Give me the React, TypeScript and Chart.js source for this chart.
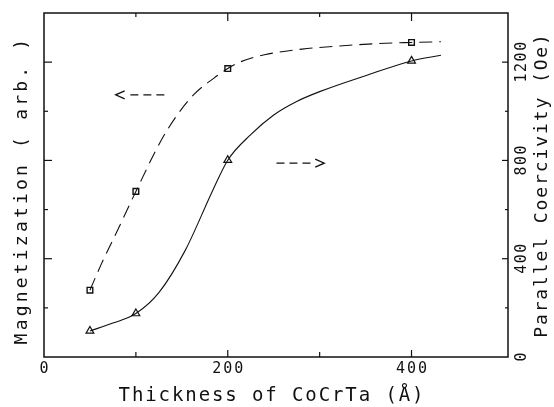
import React, { useEffect, useRef } from 'react';
import { Chart, registerables } from 'chart.js';

Chart.register(...registerables);

// Measured points
const thickness = [50, 100, 200, 400];
const magnetization = [272, 674, 1174, 1280];
const coercivity = [106, 177, 801, 1205];

// Fitted curves
const magCurveX = [50, 62, 82, 100, 127, 144, 163, 185, 200, 213, 240, 281, 322, 372, 400, 432];
const magCurveY = [272, 375, 531, 674, 878, 980, 1068, 1135, 1174, 1200, 1230, 1253, 1266, 1277, 1280, 1283];
const coerCurveX = [50, 75, 100, 125, 154, 184, 200, 225, 250, 275, 300, 350, 400, 432];
const coerCurveY = [106, 138, 177, 262, 436, 681, 801, 905, 985, 1040, 1080, 1145, 1205, 1228];

// Axes
const xTickValues = [0, 100, 200, 300, 400];
const xTickLabels = ['0', '', '200', '', '400'];
const yTickValues = [0, 200, 400, 600, 800, 1000, 1200];
const yTickLabels = ['0', '', '400', '', '800', '', '1200'];

const xTitle = 'Thickness of CoCrTa (Å)';
const yLeftTitle = 'Magnetization ( arb. )';
const yRightTitle = 'Parallel Coercivity (Oe)';

// Annotation arrows (data coordinates: [thickness, value])
const magArrowTail = [131, 1067];
const magArrowTip = [78, 1067];
const coerArrowTail = [253, 789];
const coerArrowTip = [305, 789];

const INK = '#111';
const MONO = '"DejaVu Sans Mono", monospace';

function pts(xs: number[], ys: number[]) {
  return xs.map((x, i) => ({ x, y: ys[i] }));
}

const decor = {
  id: 'decor',
  beforeDraw(chart: any) {
    const ctx = chart.ctx;
    ctx.save();
    ctx.fillStyle = '#fff';
    ctx.fillRect(0, 0, chart.width, chart.height);
    ctx.restore();
  },
  afterDraw(chart: any) {
    const ctx = chart.ctx as CanvasRenderingContext2D;
    const { left, right, top, bottom } = chart.chartArea;
    const xs = chart.scales.x;
    const ys = chart.scales.y;
    const y1 = chart.scales.y1;
    const line = (a: number, b: number, c: number, d: number) => {
      ctx.beginPath();
      ctx.moveTo(a, b);
      ctx.lineTo(c, d);
      ctx.stroke();
    };
    ctx.save();
    ctx.strokeStyle = INK;
    ctx.fillStyle = INK;
    // frame
    ctx.lineWidth = 1.5;
    ctx.strokeRect(left, top, right - left, bottom - top);
    // inward ticks
    ctx.lineWidth = 1.2;
    xTickValues.forEach((v) => {
      if (v <= 0) return;
      const px = xs.getPixelForValue(v);
      const major = v % 200 === 0;
      line(px, bottom, px, bottom - (major ? 7 : 5));
      line(px, top, px, top + (major ? 8 : 4));
    });
    yTickValues.forEach((v) => {
      if (v <= 0) return;
      const py = y1.getPixelForValue(v);
      const major = v % 400 === 0;
      line(left, py, left + (major ? 8 : 4), py);
      line(right, py, right - (major ? 6 : 3), py);
    });

    // arrows
    const arrow = (scale: any, tail: number[], tip: number[]) => {
      const x0 = xs.getPixelForValue(tail[0]);
      const x1 = xs.getPixelForValue(tip[0]);
      const yy = scale.getPixelForValue(tail[1]);
      const dir = Math.sign(x1 - x0);
      ctx.lineWidth = 1.3;
      ctx.setLineDash([8, 5]);
      line(x0, yy, x1 - dir * 10, yy);
      ctx.setLineDash([]);
      ctx.beginPath();
      ctx.moveTo(x1 - dir * 9, yy - 4);
      ctx.lineTo(x1, yy);
      ctx.lineTo(x1 - dir * 9, yy + 4);
      ctx.stroke();
    };
    arrow(ys, magArrowTail, magArrowTip);
    arrow(y1, coerArrowTail, coerArrowTip);

    // tick labels
    (ctx as any).letterSpacing = '2px';
    ctx.font = `15px ${MONO}`;
    ctx.textAlign = 'center';
    ctx.textBaseline = 'middle';
    xTickValues.forEach((v, i) => {
      const t = xTickLabels[i];
      if (!t) return;
      ctx.fillText(t, xs.getPixelForValue(v) + 1, bottom + 12);
    });
    (ctx as any).letterSpacing = '1.5px';
    yTickValues.forEach((v, i) => {
      const t = yTickLabels[i];
      if (!t) return;
      ctx.save();
      ctx.translate(right + 14, y1.getPixelForValue(v));
      ctx.rotate(-Math.PI / 2);
      ctx.fillText(t, 0.75, 0);
      ctx.restore();
    });

    // titles
    ctx.font = `19px ${MONO}`;
    (ctx as any).letterSpacing = '1.9px';
    ctx.fillText(xTitle, (left + right) / 2 - 4, bottom + 39);

    ctx.font = `18px ${MONO}`;
    (ctx as any).letterSpacing = '3.2px';
    ctx.save();
    ctx.translate(22, 190);
    ctx.rotate(-Math.PI / 2);
    ctx.fillText(yLeftTitle, 0, 0);
    ctx.restore();

    (ctx as any).letterSpacing = '1.9px';
    ctx.save();
    ctx.translate(right + 34, 185);
    ctx.rotate(-Math.PI / 2);
    ctx.fillText(yRightTitle, 0, 0);
    ctx.restore();

    (ctx as any).letterSpacing = '0px';
    ctx.restore();
  },
};

export default function App() {
  const ref = useRef<HTMLCanvasElement>(null);
  useEffect(() => {
    if (!ref.current) return;
    const chart = new Chart(ref.current, {
      type: 'line',
      data: {
        datasets: [
          {
            label: 'Magnetization curve',
            data: pts(magCurveX, magCurveY),
            yAxisID: 'y',
            borderColor: INK,
            borderWidth: 1.1,
            borderDash: [13, 7],
            pointRadius: 0,
            cubicInterpolationMode: 'monotone',
            fill: false,
          },
          {
            label: 'Magnetization',
            data: pts(thickness, magnetization),
            yAxisID: 'y',
            showLine: false,
            pointStyle: 'rect',
            pointRadius: 4,
            borderWidth: 1.4,
            borderColor: INK,
            backgroundColor: '#fff',
          },
          {
            label: 'Coercivity curve',
            data: pts(coerCurveX, coerCurveY),
            yAxisID: 'y1',
            borderColor: INK,
            borderWidth: 1.1,
            pointRadius: 0,
            cubicInterpolationMode: 'monotone',
            fill: false,
          },
          {
            label: 'Parallel Coercivity',
            data: pts(thickness, coercivity),
            yAxisID: 'y1',
            showLine: false,
            pointStyle: 'triangle',
            pointRadius: 4.5,
            borderWidth: 1.2,
            borderColor: INK,
            backgroundColor: '#fff',
          },
        ],
      },
      options: {
        animation: false,
        responsive: false,
        devicePixelRatio: 1,
        layout: { padding: { top: 13, left: 0, right: 0, bottom: 0 } },
        plugins: { legend: { display: false }, tooltip: { enabled: false } },
        scales: {
          x: {
            type: 'linear',
            min: 0,
            max: 505,
            ticks: { display: false },
            grid: { display: false, drawTicks: false },
            border: { display: false },
            afterFit: (s: any) => {
              s.height = 50;
            },
          },
          y: {
            type: 'linear',
            position: 'left',
            min: 0,
            max: 1400,
            ticks: { display: false },
            grid: { display: false, drawTicks: false },
            border: { display: false },
            afterFit: (s: any) => {
              s.width = 44;
            },
          },
          y1: {
            type: 'linear',
            position: 'right',
            min: 0,
            max: 1400,
            ticks: { display: false },
            grid: { display: false, drawTicks: false },
            border: { display: false },
            afterFit: (s: any) => {
              s.width = 46;
            },
          },
        },
      } as any,
      plugins: [decor],
    });
    return () => chart.destroy();
  }, []);
  return (
    <div style={{ position: 'absolute', left: 0, top: 0, width: 554, height: 407 }}>
      <canvas ref={ref} width={554} height={407} style={{ display: 'block' }} />
    </div>
  );
}
